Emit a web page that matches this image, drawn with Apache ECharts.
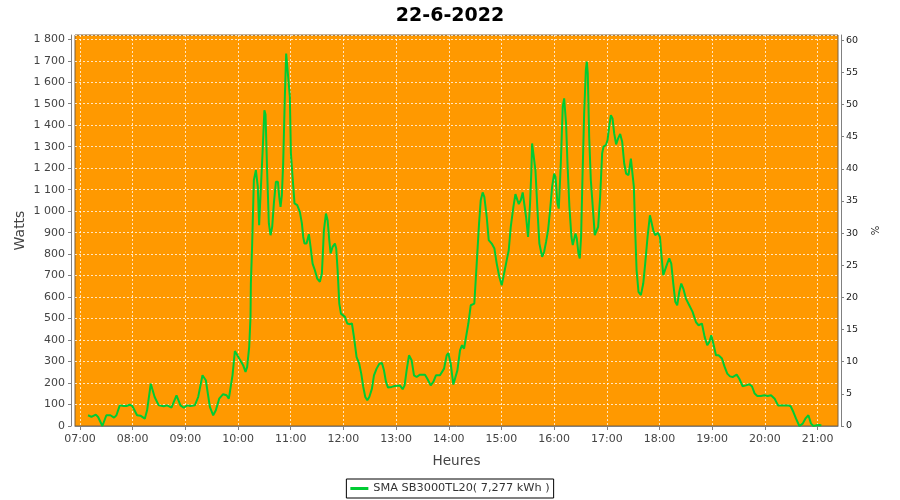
<!DOCTYPE html>
<html>
<head>
<meta charset="utf-8">
<script src="https://cdn.jsdelivr.net/npm/echarts@6/dist/echarts.min.js"></script>
<style>html,body{margin:0;padding:0;background:#fff}#c{width:900px;height:500px}</style>
</head>
<body>
<div id="c"></div>
<script>
// minutes since midnight
const timeMin = [429.2,433,438,440.6,445.5,450,454.6,458.8,461.5,465.3,469.8,472.9,476.7,479.7,485,488.8,491,493.8,496.4,500.6,505,509.7,515.4,519.2,524.2,529.9,534.4,538.2,542,545.8,550.8,554.6,559.5,563.3,567.9,571.7,574.7,578.5,583,586.9,589.5,593.7,596.4,601.3,605.8,608.5,610.4,612.7,614.2,614.6,616,618,620.3,622.5,624,625.6,628,630,631.3,633.2,635.1,637,638.9,640.8,643.1,645.4,646.9,648.4,649.9,651.4,653.3,654.8,656.7,659,660.2,662.1,664.3,667.4,670.4,672.7,674.2,675.7,678,680.7,682.6,684.9,687.5,690.2,693.2,695.5,697.8,700.1,702,703.9,705.4,707.7,710.3,711.8,713.4,715.3,717.2,719.1,721.7,724.4,727.4,729.7,732,735,738,740.3,742.6,744.9,747.2,749.5,752.5,754.8,757.8,760.9,763.9,766.2,768.5,770.8,774.9,778.7,784.4,787.5,789.7,792,794.7,797.7,800.4,803.4,807.2,812.9,815.6,819.4,822.4,825.4,830,834.6,837.6,839.5,842.2,845.2,847.1,849.8,852.8,855.1,857.4,859.6,862.3,865,867.2,869.1,871.8,874.5,876.4,878.6,880.5,883.2,885.5,888.9,892,894.6,897.6,900.3,903,906,908.3,910.6,913.6,915.9,917.4,919.7,922,924.2,926.1,928,930.3,932.6,934.1,934.9,936.8,938.7,941,943.2,946.3,948.6,950.8,953.1,955.4,957.7,960,961.5,963.8,965.3,967.6,969.8,971.4,973.6,975.2,977.4,979.7,981.2,982.8,984.3,985.8,987.7,989.2,990.7,992.3,994.2,996.1,997.2,998.3,999.9,1001.8,1004,1006.3,1008.2,1010.1,1012.4,1014.7,1016.2,1018.9,1020.8,1022.7,1024.6,1026.5,1028.4,1030.6,1032.9,1035.2,1037.5,1039.8,1042,1044.7,1047.4,1049.3,1050.8,1052.3,1053.9,1056.1,1058.8,1061.5,1063.7,1066.4,1069.1,1070.6,1072.9,1075.1,1078.2,1080.5,1082.4,1084.3,1086.5,1088.8,1091.1,1093.4,1095.7,1098,1100.2,1102.5,1104.8,1107.1,1110.1,1113.9,1117.7,1121.5,1124.5,1128.3,1131.4,1134.4,1136.7,1139,1141.3,1144.3,1147.3,1151.1,1154.2,1157.2,1160.3,1163.3,1167.9,1170.9,1174.7,1178.5,1182.3,1185.3,1188.4,1191.4,1195.6,1199.4,1203.2,1207,1208.9,1211.2,1215,1218.8,1222.6,1226.4,1229.4,1232.5,1235.5,1239.3,1243.1,1246.1,1249.6,1252.6,1255.3,1258.3,1262.1,1264.4];
const watts = [50,42,53,42,0,50,50,39,50,96,93,93,99,92,50,48,45,34,73,197,135,96,92,96,85,143,96,85,96,93,96,135,236,213,89,50,73,127,148,143,127,236,349,314,283,252,275,368,508,663,834,1144,1191,1113,935,935,1280,1470,1450,1176,943,888,927,1036,1137,1137,1067,1020,1075,1222,1533,1734,1727,1533,1269,1160,1036,1028,997,943,880,849,849,893,834,756,725,686,671,710,911,989,958,865,803,834,849,826,725,570,523,516,508,477,474,477,415,321,290,244,182,135,120,135,174,236,267,290,293,259,205,179,182,186,189,171,189,259,329,306,236,228,239,239,220,189,205,236,236,267,329,340,290,193,189,259,352,376,360,365,477,562,557,570,756,943,1051,1087,1067,974,865,849,826,756,694,655,710,772,818,927,1020,1079,1078,1033,1051,1087,1082,974,880,1036,1191,1315,1315,1191,1005,849,787,811,857,911,1005,1113,1175,1160,1036,1012,1222,1486,1525,1408,1222,1020,880,842,849,896,873,803,780,880,1160,1455,1657,1696,1641,1346,1144,1020,888,880,927,1067,1269,1300,1307,1331,1393,1447,1432,1362,1311,1339,1359,1323,1222,1175,1168,1245,1238,1113,911,725,624,609,663,756,880,981,981,911,888,899,880,787,702,694,756,780,756,663,578,562,624,663,640,593,562,531,484,469,477,415,376,391,422,384,329,329,314,275,244,231,228,239,220,185,189,194,185,151,140,140,143,140,143,148,127,96,96,96,96,92,65,34,0,11,34,50,11,0,3,5,3];
const hourTicks = [420,480,540,600,660,720,780,840,900,960,1020,1080,1140,1200,1260];
const title = '22-6-2022';
const seriesName = 'SMA SB3000TL20( 7,277 kWh )';

const pad = n => (n < 10 ? '0' : '') + n;
const fmtTime = v => pad(Math.floor(v / 60)) + ':' + pad(Math.round(v % 60));
const fmtW = v => {
  if (v % 100 !== 0) return '';
  const s = String(v);
  return s.length > 3 ? s.slice(0, s.length - 3) + ' ' + s.slice(-3) : s;
};
const font = 'DejaVu Sans';
const data = timeMin.map((t, i) => [t, watts[i]]);

const chart = echarts.init(document.getElementById('c'), null, {renderer: 'canvas'});
chart.setOption({
  animation: false,
  backgroundColor: '#ffffff',
  title: {
    text: title, left: 'center', top: 2,
    textStyle: {fontFamily: font, fontSize: 19, fontWeight: 'bold', color: '#000'}
  },
  legend: {
    data: [seriesName], left: 'center', bottom: 2,
    borderColor: '#000', borderWidth: 1, borderRadius: 0, padding: [4, 4],
    icon: 'rect', itemWidth: 18, itemHeight: 3, itemGap: 4,
    textStyle: {fontFamily: font, fontSize: 11.3, color: '#333'}
  },
  grid: {
    left: 75, right: 62, top: 35, bottom: 74,
    show: true, backgroundColor: '#ff9900', borderColor: '#7a6040', borderWidth: 1
  },
  xAxis: {
    type: 'value', min: 414.3, max: 1283.3, offset: 4,
    name: 'Heures', nameLocation: 'middle', nameGap: 24,
    nameTextStyle: {fontFamily: font, fontSize: 13.6, color: '#444'},
    axisLine: {show: true, lineStyle: {color: '#808080'}},
    axisTick: {show: true, customValues: hourTicks, length: 4, lineStyle: {color: '#808080'}},
    axisLabel: {customValues: hourTicks, formatter: fmtTime, margin: 4,
      fontFamily: font, fontSize: 11, color: '#444'},
    splitLine: {show: true, lineStyle: {color: 'rgba(255,255,255,0.75)', type: [2, 2], width: 1}}
  },
  yAxis: [{
    type: 'value', min: 0, max: 1820, interval: 100, offset: 4, position: 'left',
    name: 'Watts', nameLocation: 'middle', nameGap: 44, nameMoveOverlap: false,
    nameTextStyle: {fontFamily: font, fontSize: 14, color: '#444'},
    axisLine: {show: true, lineStyle: {color: '#808080'}},
    axisTick: {show: true, length: 3, lineStyle: {color: '#808080'}},
    axisLabel: {formatter: fmtW, margin: 6, fontFamily: font, fontSize: 11, color: '#444', showMaxLabel: false},
    splitLine: {show: true, lineStyle: {color: 'rgba(255,255,255,0.75)', type: [2, 2], width: 1}}
  }, {
    type: 'value', min: 0, max: 60.8, interval: 5, offset: 3, position: 'right',
    name: '%', nameLocation: 'middle', nameGap: 23, nameRotate: -90,
    nameTextStyle: {fontFamily: font, fontSize: 10, color: '#222'},
    axisLine: {show: true, lineStyle: {color: '#808080'}},
    axisTick: {show: true, length: 3, lineStyle: {color: '#808080'}},
    axisLabel: {formatter: v => (v % 5 === 0 ? String(v) : ''), margin: 5,
      fontFamily: font, fontSize: 9.5, color: '#222', showMaxLabel: false},
    splitLine: {show: false}
  }],
  series: [{
    name: seriesName, type: 'line', data: data, yAxisIndex: 0,
    showSymbol: false, symbol: 'none', smooth: false,
    lineStyle: {color: '#00cc33', width: 2}, itemStyle: {color: '#00cc33'}
  }]
});
</script>
</body>
</html>
